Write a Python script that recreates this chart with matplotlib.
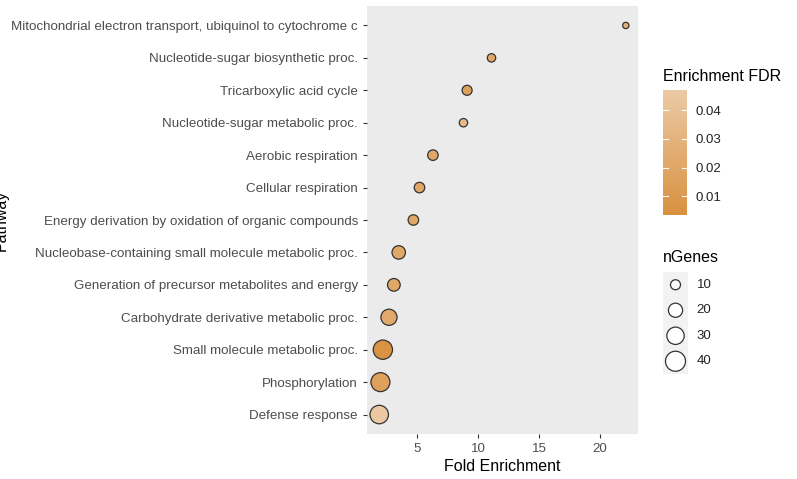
import numpy as np
import matplotlib
matplotlib.use("Agg")
import matplotlib.pyplot as plt
from matplotlib.colors import LinearSegmentedColormap, Normalize

plt.rcParams['font.family'] = ['Liberation Sans', 'DejaVu Sans']

######## DATA (bottom to top)
pathways = [
    "Defense response",
    "Phosphorylation",
    "Small molecule metabolic proc.",
    "Carbohydrate derivative metabolic proc.",
    "Generation of precursor metabolites and energy",
    "Nucleobase-containing small molecule metabolic proc.",
    "Energy derivation by oxidation of organic compounds",
    "Cellular respiration",
    "Aerobic respiration",
    "Nucleotide-sugar metabolic proc.",
    "Tricarboxylic acid cycle",
    "Nucleotide-sugar biosynthetic proc.",
    "Mitochondrial electron transport, ubiquinol to cytochrome c",
]
fold_enrichment = [1.9, 2.0, 2.2, 2.7, 3.1, 3.5, 4.7, 5.2, 6.3, 8.8, 9.1, 11.1, 22.1]
n_genes = [34, 36, 37, 26, 16, 18, 11, 11, 11, 7, 10, 7, 4]
fdr = [0.045, 0.015, 0.005, 0.022, 0.02, 0.02, 0.02, 0.02, 0.02, 0.035, 0.015, 0.02, 0.028]

x_ticks = [5, 10, 15, 20]
fdr_ticks = [0.01, 0.02, 0.03, 0.04]
legend_sizes = [10, 20, 30, 40]

######## STYLE
W, H = 797, 479
size_scale = 5.2
cmap = LinearSegmentedColormap.from_list("fdr", ["#D99140", "#ECCAA6"])
norm = Normalize(vmin=0.0035, vmax=0.047)
text_col = "#4D4D4D"

fig = plt.figure(figsize=(W / 100, H / 100), dpi=100)

######## MAIN PANEL
ax = fig.add_axes([367 / W, 1 - 434 / H, (638 - 367) / W, (434 - 6) / H])
ax.set_facecolor("#EBEBEB")
ypos = np.arange(len(pathways))
ax.scatter(fold_enrichment, ypos, s=np.array(n_genes) * size_scale,
           c=fdr, cmap=cmap, norm=norm, edgecolors="#333333", linewidths=0.9, zorder=3)
ax.set_yticks(ypos)
ax.set_yticklabels(pathways)
ax.set_xticks(x_ticks)
ax.set_xlim(0.9, 23.1)
ax.set_ylim(-0.6, len(pathways) - 0.4)
for s in ax.spines.values():
    s.set_visible(False)
ax.tick_params(axis="both", colors="#333333", labelcolor=text_col, labelsize=9.6, length=3, width=0.8)
ax.set_xlabel("Fold Enrichment", fontsize=11.5, color="black", labelpad=3)
ax.set_ylabel("Pathway", fontsize=11.5, color="black")
ax.yaxis.set_label_coords((9 - 367) / 271, 0.5)

######## COLORBAR
cax = fig.add_axes([663 / W, 1 - 215 / H, 24 / W, 125 / H])
grad = np.linspace(norm.vmin, norm.vmax, 200).reshape(-1, 1)
cax.imshow(grad, aspect="auto", cmap=cmap, norm=norm, origin="lower",
           extent=[0, 1, norm.vmin, norm.vmax])
cax.set_xticks([])
cax.yaxis.tick_right()
cax.set_yticks(fdr_ticks)
cax.set_yticklabels([f"{t:.2f}" for t in fdr_ticks])
cax.tick_params(axis="y", length=0, labelsize=9.5, labelcolor="#222222", pad=6)
for t in fdr_ticks:
    cax.plot([0, 0.2], [t, t], color="white", lw=0.8)
    cax.plot([0.8, 1], [t, t], color="white", lw=0.8)
cax.set_xlim(0, 1)
for s in cax.spines.values():
    s.set_visible(False)
fig.text(663 / W, 1 - 76 / H, "Enrichment FDR", fontsize=11.5, va="center", ha="left")

######## SIZE LEGEND
fig.text(663 / W, 1 - 258 / H, "nGenes", fontsize=11.5, va="center", ha="left")
lax = fig.add_axes([663 / W, 1 - 374 / H, 25 / W, 102 / H])
lax.set_facecolor("#F2F2F2")
lax.set_xlim(0, 1)
lax.set_ylim(len(legend_sizes) - 0.5, -0.5)
lax.scatter([0.5] * len(legend_sizes), range(len(legend_sizes)),
            s=np.array(legend_sizes) * size_scale, facecolors="white",
            edgecolors="#333333", linewidths=0.9)
for i, v in enumerate(legend_sizes):
    lax.text(1.35, i, str(v), fontsize=9.5, va="center", ha="left", color="#222222")
lax.set_xticks([])
lax.set_yticks([])
for s in lax.spines.values():
    s.set_visible(False)

fig.savefig("out.png", dpi=100)
